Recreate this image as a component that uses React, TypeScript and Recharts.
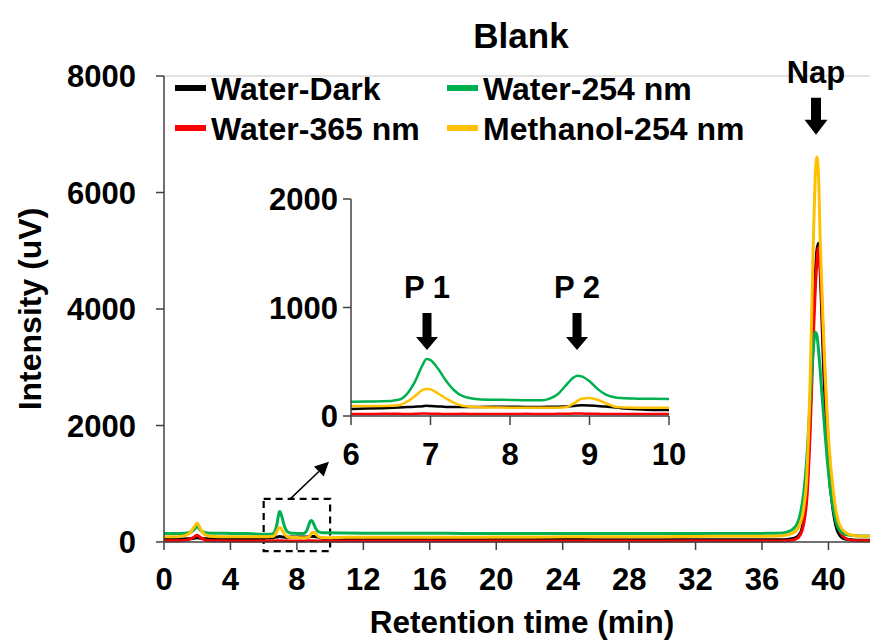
import React from 'react';
import { LineChart, Line, XAxis, YAxis, ReferenceLine, ReferenceArea, ReferenceDot, Legend } from 'recharts';

const FONT = "'Liberation Sans', Arial, Helvetica, sans-serif";
const SX = 1;

// retention time (min)
const times = [
  0, 0.5, 1, 1.5, 1.8, 2, 2.2, 2.5, 3, 4, 5,
  6, 6.2, 6.4, 6.6, 6.7, 6.8, 6.9, 6.95, 7, 7.1, 7.2, 7.3, 7.4, 7.6, 7.8,
  8, 8.2, 8.4, 8.5, 8.6, 8.7, 8.8, 8.85, 8.9, 9, 9.1, 9.2, 9.3, 9.4, 9.6, 9.8, 10,
  11, 12, 14, 16, 18, 20, 22, 24, 26, 28, 30, 32, 34, 36,
  37, 37.5, 38, 38.3, 38.5, 38.7, 38.9, 39.1, 39.2, 39.3, 39.4, 39.5, 39.7, 40, 40.3, 40.6, 41, 41.5, 42, 42.5,
];

const waterDark = [
  50, 50, 52, 55, 62, 72, 62, 55, 50, 55, 60,
  65, 68, 72, 78, 82, 86, 90, 94, 92, 88, 84, 82, 82, 84, 85,
  85, 84, 84, 85, 86, 88, 92, 96, 98, 96, 92, 88, 80, 72, 62, 56, 55,
  52, 50, 46, 45, 42, 40, 40, 42, 40, 40, 38, 38, 40, 40,
  40, 45, 70, 150, 380, 900, 2200, 3900, 4550, 5000, 5130, 4650, 3050, 1300, 500, 150, 50, 35, 30, 30,
];

const water365 = [
  20, 20, 22, 40, 85, 115, 75, 30, 20, 18, 18,
  18, 18, 20, 20, 18, 20, 22, 22, 20, 20, 18, 18, 20, 18, 18,
  18, 20, 18, 18, 20, 20, 22, 22, 22, 20, 20, 18, 18, 18, 18, 18, 18,
  18, 18, 16, 16, 16, 18, 16, 16, 16, 16, 16, 16, 16, 18,
  18, 20, 45, 120, 300, 750, 1900, 3600, 4300, 4800, 5050, 4750, 3400, 1600, 700, 250, 70, 25, 20, 20,
];

const water254 = [
  145, 145, 148, 160, 210, 265, 200, 160, 150, 148, 145,
  132, 134, 135, 150, 200, 310, 470, 525, 515, 430, 320, 235, 185, 155, 150,
  148, 145, 145, 160, 200, 280, 355, 370, 365, 320, 250, 200, 175, 165, 160, 158, 157,
  155, 152, 150, 150, 148, 148, 146, 146, 145, 145, 145, 145, 145, 148,
  150, 170, 260, 480, 820, 1450, 2450, 3350, 3600, 3550, 3300, 2950, 2200, 1200, 550, 230, 130, 110, 105, 105,
];

const methanol254 = [
  90, 90, 95, 140, 250, 320, 220, 120, 95, 90, 88,
  92, 92, 93, 100, 130, 180, 240, 250, 245, 205, 160, 120, 95, 80, 78,
  76, 75, 75, 75, 76, 80, 115, 140, 160, 165, 150, 120, 90, 80, 76, 75, 75,
  80, 80, 80, 82, 82, 85, 85, 88, 90, 90, 92, 95, 98, 100,
  105, 120, 180, 320, 560, 1150, 2800, 5300, 6250, 6610, 6300, 5200, 3600, 1800, 850, 350, 170, 110, 100, 100,
];

const seriesKeys = ['dark', 'w365', 'w254', 'meoh'];
const seriesNames = ['Water-Dark', 'Water-365 nm', 'Water-254 nm', 'Methanol-254 nm'];
const seriesColors = ['#000000', '#FF0000', '#00B050', '#FFC000'];
const seriesValues = [waterDark, water365, water254, methanol254];

const mainXTicks = [0, 4, 8, 12, 16, 20, 24, 28, 32, 36, 40];
const mainYTicks = [0, 2000, 4000, 6000, 8000];
const insetXTicks = [6, 7, 8, 9, 10];
const insetYTicks = [0, 1000, 2000];

const peakLabels = [{ name: 'Nap', t: 39.25, y: 6990 }];
const insetPeakLabels = [
  { name: 'P 1', t: 6.956, y: 608 },
  { name: 'P 2', t: 8.843, y: 608 },
];

const data = times.map((t, i) => {
  const row: any = { t };
  seriesKeys.forEach((k, s) => (row[k] = seriesValues[s][i]));
  return row;
});
const insetData = data.filter((d) => d.t >= 6 && d.t <= 10);

const AXIS = '#404040';

function SText({ x, y, anchor = 'middle', size, rotate, children }: any) {
  return (
    <text
      transform={`translate(${x},${y}) scale(${SX},1)${rotate ? ` rotate(${rotate})` : ''}`}
      textAnchor={anchor}
      fontFamily={FONT}
      fontWeight="bold"
      fontSize={size}
      fill="#000"
    >
      {children}
    </text>
  );
}

const MainXTick = (p: any) => <SText x={p.x} y={p.y + 38} size={31}>{p.payload.value}</SText>;
const MainYTick = (p: any) => <SText x={p.x - 18} y={p.y + 11} size={31} anchor="end">{p.payload.value}</SText>;
const InsetXTick = (p: any) => <SText x={p.x} y={p.y + 38} size={31}>{p.payload.value}</SText>;
const InsetYTick = (p: any) => <SText x={p.x - 3} y={p.y + 11} size={31} anchor="end">{p.payload.value}</SText>;

const makeArrow = (label: string, size: number, shaftW: number, headW: number, headH: number, len: number, gap: number) =>
  (p: any) => {
    const { cx, cy } = p;
    const pts = [
      [cx - shaftW / 2, cy - len],
      [cx + shaftW / 2, cy - len],
      [cx + shaftW / 2, cy - headH],
      [cx + headW / 2, cy - headH],
      [cx, cy],
      [cx - headW / 2, cy - headH],
      [cx - shaftW / 2, cy - headH],
    ].map((q) => q.join(',')).join(' ');
    return (
      <g>
        <polygon points={pts} fill="#000" />
        <SText x={cx} y={cy - gap} size={size}>{label}</SText>
      </g>
    );
  };

const ZoomArrow = (p: any) => {
  const { x1, y1, x2, y2 } = p;
  const ang = Math.atan2(y2 - y1, x2 - x1);
  const hl = 14, hw = 7;
  const bx = x2 - hl * Math.cos(ang), by = y2 - hl * Math.sin(ang);
  const px = -Math.sin(ang) * hw, py = Math.cos(ang) * hw;
  return (
    <g>
      <line x1={x1} y1={y1} x2={bx} y2={by} stroke="#000" strokeWidth={1.5} />
      <polygon points={`${x2},${y2} ${bx + px},${by + py} ${bx - px},${by - py}`} fill="#000" />
    </g>
  );
};

const legendPos: Record<string, { col: number; row: number }> = {
  'Water-Dark': { col: 0, row: 0 },
  'Water-365 nm': { col: 0, row: 1 },
  'Water-254 nm': { col: 1, row: 0 },
  'Methanol-254 nm': { col: 1, row: 1 },
};

const LegendContent = (props: any) => {
  const payload = props.payload || [];
  return (
    <svg width={640} height={84} style={{ display: 'block', overflow: 'visible' }}>
      {payload.map((e: any) => {
        const pos = legendPos[e.value] || { col: 0, row: 0 };
        const x0 = 15 + pos.col * 272;
        const y0 = 22 + pos.row * 40;
        return (
          <g key={e.value}>
            <rect x={x0} y={y0 - 3} width={31} height={6} fill={e.color} />
            <SText x={x0 + 36} y={y0 + 12} size={32} anchor="start">{e.value}</SText>
          </g>
        );
      })}
    </svg>
  );
};

export default function App() {
  return (
    <div style={{ position: 'absolute', left: 0, top: 0, width: 872, height: 642, background: '#fff', overflow: 'hidden' }}>
      <svg width={872} height={642} style={{ position: 'absolute', left: 0, top: 0 }}>
        <SText x={521} y={48} size={35}>Blank</SText>
      </svg>
      <div style={{ position: 'absolute', left: 0, top: 0 }}>
        <LineChart width={872} height={642} data={data} margin={{ top: 76, right: 2, left: 0, bottom: 0 }}>
          <XAxis
            dataKey="t"
            type="number"
            domain={[0, 42.5]}
            ticks={mainXTicks}
            allowDataOverflow
            height={100}
            tickSize={8}
            tickLine={{ stroke: AXIS, strokeWidth: 1.5 }}
            axisLine={{ stroke: AXIS, strokeWidth: 1.5 }}
            tick={MainXTick}
            label={{
              content: (lp: any) => {
                const vb = lp.viewBox;
                return <SText x={vb.x + vb.width / 2 + 5} y={vb.y + 91} size={31.5}>Retention time (min)</SText>;
              },
            }}
          />
          <YAxis
            type="number"
            domain={[0, 8000]}
            ticks={mainYTicks}
            width={164}
            tickSize={8}
            tickLine={{ stroke: AXIS, strokeWidth: 1.5 }}
            axisLine={{ stroke: AXIS, strokeWidth: 1.5 }}
            tick={MainYTick}
            label={{
              content: (lp: any) => {
                const vb = lp.viewBox;
                return <SText x={41} y={vb.y + vb.height / 2} size={32} rotate={-90}>Intensity (uV)</SText>;
              },
            }}
          />
          <ReferenceLine y={8000} stroke="#d9d9d9" strokeWidth={1.5} />
          <ReferenceArea x1={6} x2={10} y1={-155} y2={740} fill="none" fillOpacity={0} stroke="#000" strokeWidth={2.2} strokeDasharray="7 5" ifOverflow="visible" />
          <Legend
            verticalAlign="middle"
            align="center"
            layout="horizontal"
            content={LegendContent}
            wrapperStyle={{ position: 'absolute', left: 160, top: 66, width: 640, height: 84 }}
          />
          {seriesKeys.map((k, i) => (
            <Line
              key={k}
              dataKey={k}
              name={seriesNames[i]}
              stroke={seriesColors[i]}
              strokeWidth={3}
              dot={false}
              type="monotone"
              isAnimationActive={false}
            />
          ))}
          <ReferenceLine segment={[{ x: 7.6, y: 740 }, { x: 9.93, y: 1378 }]} shape={ZoomArrow} />
          {peakLabels.map((pk) => (
            <ReferenceDot key={pk.name} x={pk.t} y={pk.y} ifOverflow="visible" shape={makeArrow(pk.name, 31, 10, 23, 15, 37, 52)} />
          ))}
        </LineChart>
      </div>
      <div style={{ position: 'absolute', left: 251, top: 170 }}>
        <LineChart width={468} height={320} data={insetData} margin={{ top: 29, right: 50, left: 0, bottom: 0 }}>
          <XAxis
            dataKey="t"
            type="number"
            domain={[6, 10]}
            ticks={insetXTicks}
            height={74}
            tickSize={9}
            tickLine={{ stroke: AXIS, strokeWidth: 1.5 }}
            axisLine={{ stroke: AXIS, strokeWidth: 1.5 }}
            tick={InsetXTick}
          />
          <YAxis
            type="number"
            domain={[0, 2000]}
            ticks={insetYTicks}
            width={100}
            tickSize={8}
            tickLine={{ stroke: AXIS, strokeWidth: 1.5 }}
            axisLine={{ stroke: AXIS, strokeWidth: 1.5 }}
            tick={InsetYTick}
          />
          {seriesKeys.map((k, i) => (
            <Line
              key={k}
              dataKey={k}
              name={seriesNames[i]}
              stroke={seriesColors[i]}
              strokeWidth={2.5}
              dot={false}
              type="monotone"
              isAnimationActive={false}
            />
          ))}
          {insetPeakLabels.map((pk) => (
            <ReferenceDot key={pk.name} x={pk.t} y={pk.y} ifOverflow="visible" shape={makeArrow(pk.name, 31, 9, 22, 13, 37, 52)} />
          ))}
        </LineChart>
      </div>
    </div>
  );
}
